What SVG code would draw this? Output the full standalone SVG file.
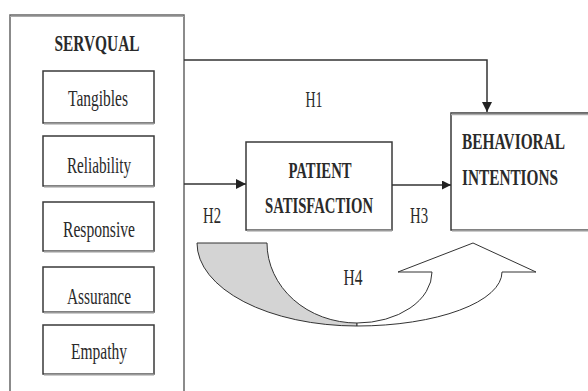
<svg xmlns="http://www.w3.org/2000/svg" width="588" height="391" viewBox="0 0 588 391">
<style>
  .box{fill:#fff;stroke:#3a3a3a;stroke-width:1.5}
  .shadow{stroke:#9a9a9a;stroke-width:2;fill:none}
  .lbl{font-family:"Liberation Serif","Times New Roman",serif;font-size:23px;fill:#2a2a2a}
  .bold{font-weight:bold}
  .conn{stroke:#333;stroke-width:1.5;fill:none}
  .ribbon{stroke:#333;stroke-width:1}
</style>
<defs>
  <marker id="ah" viewBox="0 0 10 10" refX="10" refY="5" markerWidth="9" markerHeight="9" markerUnits="userSpaceOnUse" orient="auto">
    <path d="M0,0 L10,5 L0,10 Z" fill="#222"/>
  </marker>
  <marker id="ahBig" viewBox="0 0 10 10" refX="10" refY="5" markerWidth="12" markerHeight="10" markerUnits="userSpaceOnUse" orient="auto">
    <path d="M0,0 L10,5 L0,10 Z" fill="#222"/>
  </marker>
</defs>

<g id="servqual">
  <path d="M10,391 L10,15 L184,15 L184,391" fill="#fff" stroke="#666" stroke-width="1.5"/>
  <line x1="10" y1="16.5" x2="184" y2="16.5" stroke="#aaa" stroke-width="1"/>
  <text class="lbl bold" transform="translate(97,51) scale(0.65,1)" text-anchor="middle" textLength="130.8" lengthAdjust="spacingAndGlyphs">SERVQUAL</text>
</g>

<g id="tangibles">
  <rect class="box" x="43" y="71" width="111" height="52"/>
  <line class="shadow" x1="44" y1="123.5" x2="154" y2="123.5"/>
  <text class="lbl" transform="translate(98,106) scale(0.65,1)" text-anchor="middle" textLength="92.3" lengthAdjust="spacingAndGlyphs">Tangibles</text>
</g>
<g id="reliability">
  <rect class="box" x="43" y="136" width="111" height="50"/>
  <line class="shadow" x1="44" y1="186.5" x2="154" y2="186.5"/>
  <text class="lbl" transform="translate(99,173) scale(0.65,1)" text-anchor="middle" textLength="98.5" lengthAdjust="spacingAndGlyphs">Reliability</text>
</g>
<g id="responsive">
  <rect class="box" x="43" y="202" width="111" height="49"/>
  <line class="shadow" x1="44" y1="251.5" x2="154" y2="251.5"/>
  <text class="lbl" transform="translate(99,237) scale(0.65,1)" text-anchor="middle" textLength="110.8" lengthAdjust="spacingAndGlyphs">Responsive</text>
</g>
<g id="assurance">
  <rect class="box" x="43" y="267" width="111" height="45"/>
  <line class="shadow" x1="44" y1="312.5" x2="154" y2="312.5"/>
  <text class="lbl" transform="translate(99,304) scale(0.65,1)" text-anchor="middle" textLength="98.5" lengthAdjust="spacingAndGlyphs">Assurance</text>
</g>
<g id="empathy">
  <rect class="box" x="43" y="325" width="111" height="49"/>
  <line class="shadow" x1="44" y1="374.5" x2="154" y2="374.5"/>
  <text class="lbl" transform="translate(99,359) scale(0.65,1)" text-anchor="middle" textLength="86.2" lengthAdjust="spacingAndGlyphs">Empathy</text>
</g>

<g id="patient-satisfaction">
  <rect class="box" x="246" y="142" width="146" height="88"/>
  <line class="shadow" x1="247" y1="230.5" x2="392" y2="230.5"/>
  <text class="lbl bold" transform="translate(320,178) scale(0.65,1)" text-anchor="middle" textLength="96.9" lengthAdjust="spacingAndGlyphs">PATIENT</text>
  <text class="lbl bold" transform="translate(319,213) scale(0.65,1)" text-anchor="middle" textLength="166.2" lengthAdjust="spacingAndGlyphs">SATISFACTION</text>
</g>

<g id="behavioral-intentions">
  <path d="M588,113 L451,113 L451,230 L588,230" fill="#fff" stroke="#3a3a3a" stroke-width="1.5"/>
  <line class="shadow" x1="452" y1="230.5" x2="588" y2="230.5"/>
  <line x1="451" y1="114.5" x2="588" y2="114.5" stroke="#aaa" stroke-width="1.5"/>
  <text class="lbl bold" transform="translate(462,149) scale(0.65,1)" textLength="158.5" lengthAdjust="spacingAndGlyphs">BEHAVIORAL</text>
  <text class="lbl bold" transform="translate(462,185) scale(0.65,1)" textLength="147.7" lengthAdjust="spacingAndGlyphs">INTENTIONS</text>
</g>

<g id="connectors">
  <path class="conn" d="M184,60 L487,60 L487,112" marker-end="url(#ahBig)"/>
  <path class="conn" d="M184,184 L246,184" marker-end="url(#ahBig)"/>
  <path class="conn" d="M392,185 L451,185" marker-end="url(#ah)"/>
  <path class="ribbon" fill="#d4d4d4" d="M197,243 L267,243 A90,80 0 0 0 357,323 L357,326 A160,83 0 0 1 197,243 Z"/>
  <path class="ribbon" fill="#fff" d="M357,326 A145,54 0 0 0 502,272 L536,272 L473,243 L398,272 L432,272 A75,51 0 0 1 357,323 Z"/>
</g>

<g id="labels">
  <text class="lbl" transform="translate(314,107) scale(0.65,1)" text-anchor="middle" textLength="26.2" lengthAdjust="spacingAndGlyphs">H1</text>
  <text class="lbl" transform="translate(212,223) scale(0.65,1)" text-anchor="middle" textLength="27.7" lengthAdjust="spacingAndGlyphs">H2</text>
  <text class="lbl" transform="translate(419,223) scale(0.65,1)" text-anchor="middle" textLength="27.7" lengthAdjust="spacingAndGlyphs">H3</text>
  <text class="lbl" transform="translate(353,285) scale(0.65,1)" text-anchor="middle" textLength="29.2" lengthAdjust="spacingAndGlyphs">H4</text>
</g>
</svg>
